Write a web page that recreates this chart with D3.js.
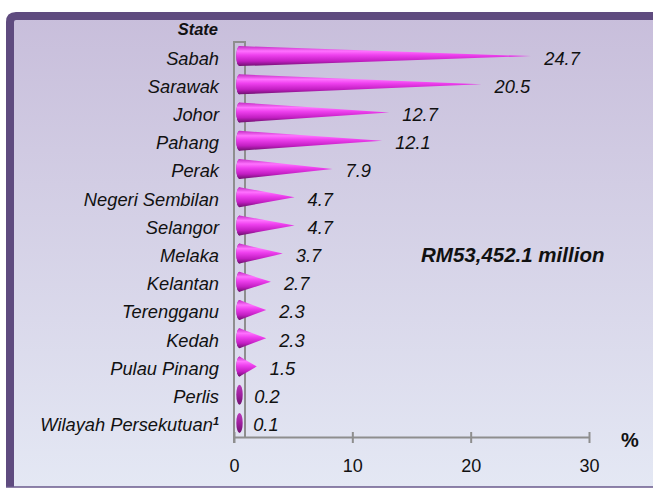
<!DOCTYPE html>
<html>
<head>
<meta charset="utf-8">
<script src="https://cdn.jsdelivr.net/npm/d3@7"></script>
<style>
  body { margin: 0; background: #fff; }
  svg { display: block; font-family: "Liberation Sans", Arial, sans-serif; }
</style>
</head>
<body>
<div id="chart"></div>
<script>
// shares of total, %
const states = ['Sabah', 'Sarawak', 'Johor', 'Pahang', 'Perak', 'Negeri Sembilan', 'Selangor',
    'Melaka', 'Kelantan', 'Terengganu', 'Kedah', 'Pulau Pinang', 'Perlis', 'Wilayah Persekutuan'];
const shares = [24.7, 20.5, 12.7, 12.1, 7.9, 4.7, 4.7, 3.7, 2.7, 2.3, 2.3, 1.5, 0.2, 0.1];
const xTicks = [0, 10, 20, 30];
const totalLabel = 'RM53,452.1 million';

const W = 653, H = 489;
const svg = d3.select('#chart').append('svg').attr('width', W).attr('height', H);
const defs = svg.append('defs');

const bg = defs.append('linearGradient').attr('id', 'bg').attr('x1', 0).attr('y1', 0).attr('x2', 0).attr('y2', 1);
bg.append('stop').attr('offset', '0%').attr('stop-color', '#c8bedb');
bg.append('stop').attr('offset', '100%').attr('stop-color', '#e4e8f4');

const cone = defs.append('linearGradient').attr('id', 'cone').attr('x1', 0).attr('y1', 0).attr('x2', 0).attr('y2', 1);
[['0%', '#c32cc3'], ['25%', '#ff72ff'], ['45%', '#ee40ee'], ['75%', '#c21ec2'], ['100%', '#6e106e']]
    .forEach(s => cone.append('stop').attr('offset', s[0]).attr('stop-color', s[1]));

const base = defs.append('linearGradient').attr('id', 'base').attr('x1', 0).attr('y1', 0).attr('x2', 0).attr('y2', 1);
[['0%', '#b83ab8'], ['50%', '#a020a0'], ['100%', '#701270']]
    .forEach(s => base.append('stop').attr('offset', s[0]).attr('stop-color', s[1]));

// frame
svg.append('rect').attr('x', 10).attr('y', 16).attr('width', 660).attr('height', 471)
    .attr('fill', 'url(#bg)');
svg.append('path').attr('d', 'M10,487 L10,22 Q10,16 16,16 L660,16')
    .attr('fill', 'none').attr('stroke', '#5f4b7f').attr('stroke-width', 8);
svg.append('line').attr('x1', 6).attr('x2', W).attr('y1', 487).attr('y2', 487)
    .attr('stroke', '#6a5a8c').attr('stroke-width', 1.5);

const x = d3.scaleLinear().domain([0, 30]).range([234, 589]);
const y = d3.scaleBand().domain(states).range([42, 437]);
const depth = 11;
const axisColor = '#8e8e8e';

// side wall
svg.append('path')
    .attr('d', `M${x(0)},${y.range()[1] + 6} L${x(0)},${y.range()[0]} L${x(0) + depth},${y.range()[0]} L${x(0) + depth},${y.range()[1]}`)
    .attr('fill', 'none').attr('stroke', axisColor).attr('stroke-width', 2);

// x axis
const xAxis = svg.append('g')
    .attr('transform', `translate(0,${y.range()[1]})`)
    .call(d3.axisBottom(x).tickValues(xTicks).tickSizeOuter(0).tickPadding(16));
xAxis.select('.domain').attr('stroke', axisColor).attr('stroke-width', 2);
xAxis.selectAll('.tick line').attr('stroke', axisColor).attr('stroke-width', 2)
    .attr('y1', -5).attr('y2', 6);
xAxis.selectAll('.tick text').attr('font-size', 18).attr('fill', '#111')
    .attr('font-family', '"Liberation Sans", Arial, sans-serif');

svg.append('text').attr('x', 621).attr('y', 447).attr('font-size', 20).attr('font-weight', 'bold')
    .attr('fill', '#111').text('%');

// category labels
svg.append('text').attr('x', 218).attr('y', 35).attr('text-anchor', 'end')
    .attr('font-size', 16.5).attr('font-weight', 'bold').attr('font-style', 'italic')
    .attr('fill', '#111').text('State');

const cats = svg.append('g').selectAll('text').data(states).join('text')
    .attr('x', 219).attr('y', d => y(d) + y.bandwidth() / 2 + 2).attr('dy', '0.35em')
    .attr('text-anchor', 'end').attr('font-size', 18.3).attr('font-style', 'italic').attr('fill', '#111')
    .text(d => d);
cats.filter(d => d === 'Wilayah Persekutuan').append('tspan')
    .attr('font-size', 11).attr('font-weight', 'bold').attr('dy', '-0.6em').text('1');

// cones
const h = y.bandwidth() * 0.71;
const rx = 3.2;
const bars = svg.append('g').selectAll('g').data(states).join('g');
bars.append('ellipse')
    .attr('cx', x(0) + 5.5).attr('cy', d => y(d) + y.bandwidth() / 2)
    .attr('rx', rx).attr('ry', h / 2).attr('fill', 'url(#base)');
bars.append('path')
    .attr('d', (d, i) => {
        const cy = y(d) + y.bandwidth() / 2;
        const xb = x(0) + 5.5;
        const xt = x(shares[i]) + 5;
        if (xt - xb < 2) return '';
        return `M${xb},${cy - h / 2} L${xt},${cy} L${xb},${cy + h / 2} A${rx},${h / 2} 0 0 1 ${xb},${cy - h / 2} Z`;
    })
    .attr('fill', 'url(#cone)');

// value labels
svg.append('g').selectAll('text').data(states).join('text')
    .attr('x', (d, i) => x(shares[i]) + 18)
    .attr('y', d => y(d) + y.bandwidth() / 2 + 2).attr('dy', '0.35em')
    .attr('font-size', 18.3).attr('font-style', 'italic').attr('fill', '#111')
    .text((d, i) => shares[i].toFixed(1));

svg.append('text').attr('x', 421).attr('y', 262).attr('font-size', 20.5)
    .attr('font-weight', 'bold').attr('font-style', 'italic').attr('fill', '#111')
    .text(totalLabel);
</script>
</body>
</html>
